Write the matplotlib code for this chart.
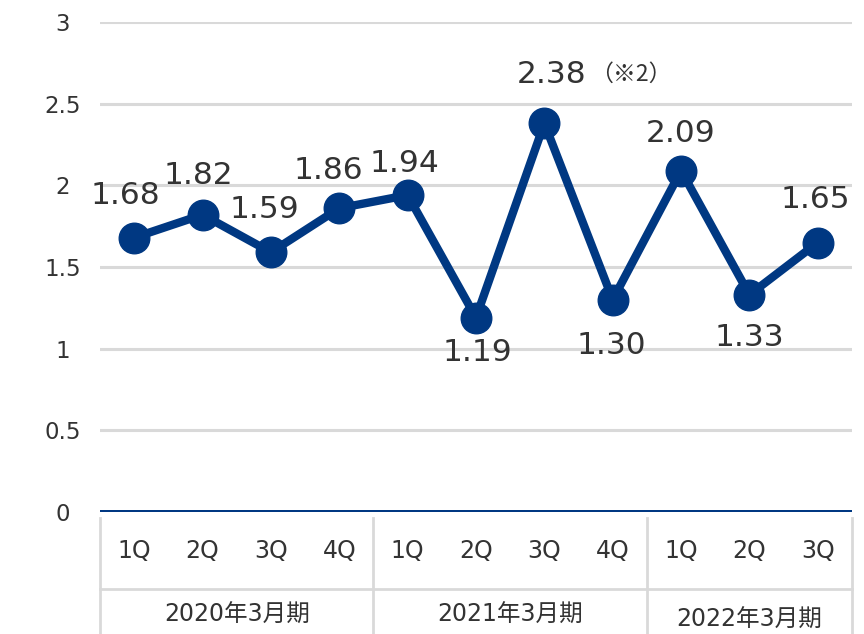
import matplotlib
matplotlib.use("Agg")
import matplotlib.pyplot as plt
from matplotlib.transforms import blended_transform_factory

plt.rcParams['font.family'] = ['DejaVu Sans', 'Noto Sans CJK JP']

quarters = ["1Q", "2Q", "3Q", "4Q", "1Q", "2Q", "3Q", "4Q", "1Q", "2Q", "3Q"]
values = [1.68, 1.82, 1.59, 1.86, 1.94, 1.19, 2.38, 1.30, 2.09, 1.33, 1.65]
value_labels = ["1.68", "1.82", "1.59", "1.86", "1.94", "1.19", "2.38", "1.30", "2.09", "1.33", "1.65"]
years = ["2020年3月期", "2021年3月期", "2022年3月期"]
year_counts = [4, 4, 3]
yticks = [0, 0.5, 1, 1.5, 2, 2.5, 3]
ytick_labels = ["0", "0.5", "1", "1.5", "2", "2.5", "3"]
note = "（※2）"

navy = "#003882"
grid_c = "#d9d9d9"
text_c = "#333333"

fig = plt.figure(figsize=(8.64, 6.34), dpi=100)
ax = fig.add_axes([100/864, (634-512)/634, 752/864, 490/634])
x = list(range(len(values)))
ax.set_xlim(-0.5, len(values) - 0.5)
ax.set_ylim(0, 3)

for yv in yticks[1:]:
    ax.axhline(yv, color=grid_c, lw=2.2, zorder=1)
ax.axhline(0, color=navy, lw=3.6, zorder=3)

ax.plot(x, values, color=navy, lw=6, marker='o', markersize=22, zorder=4,
        solid_joinstyle='round')

# value labels: (dx, dy) offsets in points
offsets = [(-6, 30), (-3, 28), (-5, 31), (-8, 27), (-2, 23), (1, -25), (5, 35),
           (-1, -33), (0, 27), (0, -31), (-2, 31)]
for xi, v, lab, (dx, dy) in zip(x, values, value_labels, offsets):
    ax.annotate(lab, (xi, v), xytext=(dx, dy), textcoords='offset points',
                ha='center', va='center', fontsize=22.5, color=text_c, zorder=5)
i_note = 6
ax.annotate(note, (x[i_note], values[i_note]), xytext=(62, 35), textcoords='offset points',
            ha='center', va='center', fontsize=16.5, color=text_c,
            family=['Noto Sans CJK JP', 'DejaVu Sans'])

ax.set_yticks(yticks)
ax.set_yticklabels(ytick_labels, fontsize=16.5, color=text_c)
for t in ax.get_yticklabels():
    t.set_horizontalalignment('center')
ax.tick_params(axis='y', length=0, pad=27)
ax.set_xticks([])
for s in ax.spines.values():
    s.set_visible(False)

# table below axis
trans = blended_transform_factory(ax.transData, ax.transAxes)
y_top = -6/490
y_mid = -77/490
y_bot = -125/490
bounds = [-0.5]
acc = -0.5
for c in year_counts:
    acc += c
    bounds.append(acc)
for b in bounds:
    ax.plot([b, b], [y_top, y_bot], transform=trans, color=grid_c, lw=2, clip_on=False)
ax.plot([bounds[0], bounds[-1]], [y_mid, y_mid], transform=trans, color=grid_c, lw=2, clip_on=False)

for xi, q in zip(x, quarters):
    ax.text(xi, -39/490, q, transform=trans, ha='center', va='center', fontsize=17, color=text_c)
start = -0.5
for i, (yr, c) in enumerate(zip(years, year_counts)):
    cx = start + c / 2
    yy = -103/490 if i < 2 else -108/490
    ax.text(cx, yy, yr, transform=trans, ha='center', va='center', fontsize=17, color=text_c,
            family=['DejaVu Sans', 'Noto Sans CJK JP'])
    start += c

fig.savefig("out.png", dpi=100)
